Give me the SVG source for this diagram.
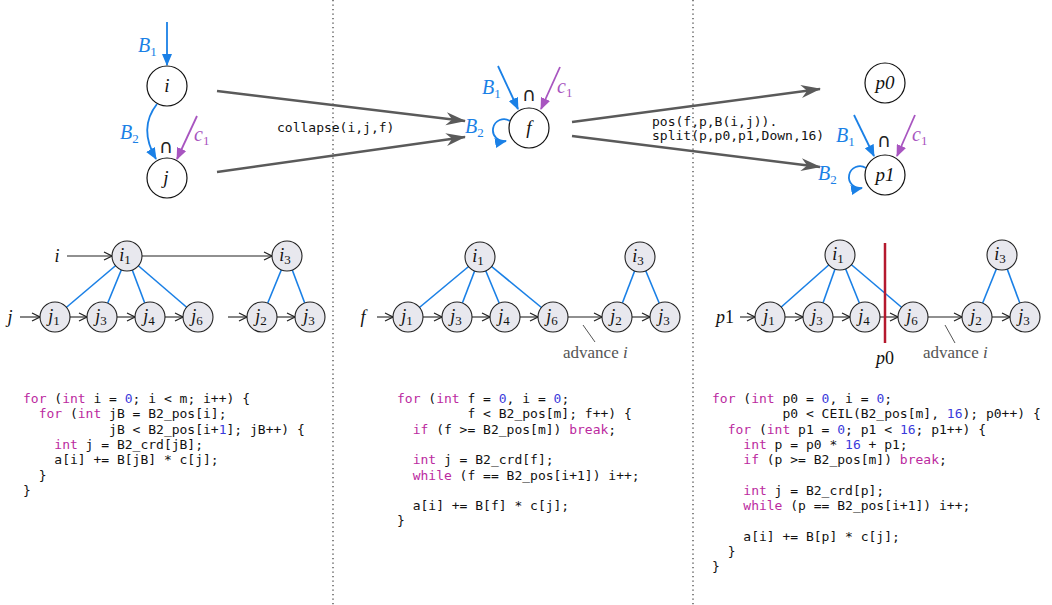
<svg xmlns="http://www.w3.org/2000/svg" width="1052" height="605" viewBox="0 0 1052 605">
<style>
.bg{fill:#ffffff}
.div{stroke:#444;stroke-width:1.3;stroke-dasharray:1.3 3.2;fill:none}
.tn{fill:#fff;stroke:#111;stroke-width:1.2}
.bn{fill:#e8e8ee;stroke:#222;stroke-width:1.1}
.it{font-family:"Liberation Serif",serif;font-style:italic;font-size:19px;fill:#111}
.itl{font-family:"Liberation Serif",serif;font-style:italic;font-size:20px}
.its{font-family:"Liberation Serif",serif;font-style:italic;font-size:18px;fill:#111}
.sub{font-style:normal;font-size:13px}
.blue{fill:#1a80e6}
.purp{fill:#a855c0}
.cap{font-family:"DejaVu Sans",sans-serif;font-size:19px;fill:#222}
.mono{font-family:"DejaVu Sans Mono","Liberation Mono",monospace;font-size:13px;fill:#111;white-space:pre}
.kw{fill:#bb2aa0}
.num{fill:#3b3bdb}
.eb{stroke:#1a80e6;stroke-width:1.8;fill:none}
.ep{stroke:#a855c0;stroke-width:1.8;fill:none}
.eg{stroke:#5a5a5a;stroke-width:2.4;fill:none}
.ek{stroke:#222;stroke-width:1.1;fill:none}
.ebl{stroke:#1a80e6;stroke-width:1.6;fill:none}
.ann{stroke:#555;stroke-width:1;fill:none}
.adv{font-family:"Liberation Serif",serif;font-size:17px;fill:#555}
</style>
<defs>
<marker id="ab" markerUnits="userSpaceOnUse" markerWidth="12" markerHeight="10" refX="11" refY="5" orient="auto" viewBox="0 0 12 10"><path d="M0,0 L12,5 L0,10 z" fill="#1a80e6"/></marker>
<marker id="ap" markerUnits="userSpaceOnUse" markerWidth="12" markerHeight="10" refX="11" refY="5" orient="auto" viewBox="0 0 12 10"><path d="M0,0 L12,5 L0,10 z" fill="#a855c0"/></marker>
<marker id="ag" markerUnits="userSpaceOnUse" markerWidth="20" markerHeight="14" refX="19" refY="7" orient="auto" viewBox="0 0 20 14"><path d="M0,0.5 L20,7 L0,13.5 L6,7 z" fill="#5a5a5a"/></marker>
<marker id="ak" markerUnits="userSpaceOnUse" markerWidth="10" markerHeight="10" refX="9" refY="5" orient="auto" viewBox="0 0 10 10"><path d="M1,1 L9,5 L1,9" fill="none" stroke="#222" stroke-width="1.2"/></marker>
</defs>
<rect class="bg" x="0" y="0" width="1052" height="605"/>
<line class="div" x1="333" y1="0" x2="333" y2="605"/>
<line class="div" x1="693" y1="0" x2="693" y2="605"/>

<g id="connectors">
<line class="eb" x1="167" y1="22" x2="167" y2="65" marker-end="url(#ab)"/>
<path class="eb" d="M157,104 Q138,128 156,159" marker-end="url(#ab)"/>
<line class="ep" x1="197" y1="116" x2="177" y2="159" marker-end="url(#ap)"/>
<line class="eg" x1="217" y1="91" x2="465" y2="121" marker-end="url(#ag)"/>
<line class="eg" x1="217" y1="172" x2="465" y2="137" marker-end="url(#ag)"/>
<line class="eb" x1="498" y1="66" x2="518" y2="109" marker-end="url(#ab)"/>
<line class="ep" x1="560" y1="67" x2="541" y2="109" marker-end="url(#ap)"/>
<path class="eb" d="M510,121 A11,11 0 1 0 506,141" marker-end="url(#ab)"/>
<line class="eg" x1="572" y1="122" x2="820" y2="89" marker-end="url(#ag)"/>
<line class="eg" x1="572" y1="136" x2="820" y2="167" marker-end="url(#ag)"/>
<line class="eb" x1="854" y1="115" x2="874" y2="156" marker-end="url(#ab)"/>
<line class="ep" x1="915" y1="115" x2="897" y2="156" marker-end="url(#ap)"/>
<path class="eb" d="M866,168 A11,11 0 1 0 862,188" marker-end="url(#ab)"/>

<line class="ebl" x1="127" y1="256" x2="55" y2="317"/>
<line class="ebl" x1="127" y1="256" x2="102" y2="317"/>
<line class="ebl" x1="127" y1="256" x2="150" y2="317"/>
<line class="ebl" x1="127" y1="256" x2="198" y2="317"/>
<line class="ebl" x1="287" y1="256" x2="262" y2="317"/>
<line class="ebl" x1="287" y1="256" x2="310" y2="317"/>
<line class="ek" x1="67" y1="256" x2="112" y2="256" marker-end="url(#ak)"/>
<line class="ek" x1="142" y1="256" x2="272" y2="256" marker-end="url(#ak)"/>
<line class="ek" x1="20" y1="317" x2="40" y2="317" marker-end="url(#ak)"/>
<line class="ek" x1="70" y1="317" x2="87" y2="317" marker-end="url(#ak)"/>
<line class="ek" x1="117" y1="317" x2="135" y2="317" marker-end="url(#ak)"/>
<line class="ek" x1="165" y1="317" x2="183" y2="317" marker-end="url(#ak)"/>
<line class="ek" x1="228" y1="317" x2="247" y2="317" marker-end="url(#ak)"/>
<line class="ek" x1="277" y1="317" x2="295" y2="317" marker-end="url(#ak)"/>

<line class="ebl" x1="480" y1="257" x2="408" y2="317"/>
<line class="ebl" x1="480" y1="257" x2="457" y2="317"/>
<line class="ebl" x1="480" y1="257" x2="505" y2="317"/>
<line class="ebl" x1="480" y1="257" x2="553" y2="317"/>
<line class="ebl" x1="640" y1="257" x2="617" y2="317"/>
<line class="ebl" x1="640" y1="257" x2="665" y2="317"/>
<line class="ek" x1="377" y1="317" x2="393" y2="317" marker-end="url(#ak)"/>
<line class="ek" x1="423" y1="317" x2="442" y2="317" marker-end="url(#ak)"/>
<line class="ek" x1="472" y1="317" x2="490" y2="317" marker-end="url(#ak)"/>
<line class="ek" x1="520" y1="317" x2="538" y2="317" marker-end="url(#ak)"/>
<line class="ek" x1="568" y1="317" x2="602" y2="317" marker-end="url(#ak)"/>
<line class="ek" x1="632" y1="317" x2="650" y2="317" marker-end="url(#ak)"/>
<line class="ann" x1="583" y1="325" x2="595" y2="342"/>

<line class="ebl" x1="840" y1="255" x2="770" y2="317"/>
<line class="ebl" x1="840" y1="255" x2="818" y2="317"/>
<line class="ebl" x1="840" y1="255" x2="865" y2="317"/>
<line class="ebl" x1="840" y1="255" x2="913" y2="317"/>
<line class="ebl" x1="1002" y1="255" x2="977" y2="317"/>
<line class="ebl" x1="1002" y1="255" x2="1025" y2="317"/>
<line class="ek" x1="740" y1="317" x2="755" y2="317" marker-end="url(#ak)"/>
<line class="ek" x1="785" y1="317" x2="803" y2="317" marker-end="url(#ak)"/>
<line class="ek" x1="833" y1="317" x2="850" y2="317" marker-end="url(#ak)"/>
<line class="ek" x1="880" y1="317" x2="898" y2="317" marker-end="url(#ak)"/>
<line class="ek" x1="928" y1="317" x2="962" y2="317" marker-end="url(#ak)"/>
<line class="ek" x1="992" y1="317" x2="1010" y2="317" marker-end="url(#ak)"/>
<line class="ann" x1="945" y1="325" x2="955" y2="343"/>
</g>

<g id="top-labels">
<text class="itl blue" x="138" y="52">B<tspan class="sub" dy="4">1</tspan></text>
<text class="itl blue" x="120" y="139">B<tspan class="sub" dy="4">2</tspan></text>
<text class="cap" x="166" y="153" text-anchor="middle">∩</text>
<text class="itl purp" x="194" y="141">c<tspan class="sub" dy="4">1</tspan></text>
<text class="mono" x="277" y="132">collapse(i,j,f)</text>

<text class="itl blue" x="482" y="94">B<tspan class="sub" dy="4">1</tspan></text>
<text class="cap" x="529" y="101" text-anchor="middle">∩</text>
<text class="itl purp" x="557" y="93">c<tspan class="sub" dy="4">1</tspan></text>
<text class="itl blue" x="465" y="133">B<tspan class="sub" dy="4">2</tspan></text>
<text class="mono" x="652" y="126">pos(f,p,B(i,j)).</text>
<text class="mono" x="652" y="140">split(p,p0,p1,Down,16)</text>

<text class="itl blue" x="836" y="142">B<tspan class="sub" dy="4">1</tspan></text>
<text class="cap" x="884" y="147" text-anchor="middle">∩</text>
<text class="itl purp" x="912" y="141">c<tspan class="sub" dy="4">1</tspan></text>
<text class="itl blue" x="818" y="180">B<tspan class="sub" dy="4">2</tspan></text>
</g>

<g id="node-i"><circle class="tn" cx="167" cy="86" r="20"/><text class="it" x="167" y="92" text-anchor="middle">i</text></g>
<g id="node-j"><circle class="tn" cx="167" cy="178" r="20"/><text class="it" x="166" y="184" text-anchor="middle">j</text></g>
<g id="node-f"><circle class="tn" cx="529" cy="128" r="20"/><text class="it" x="529" y="134" text-anchor="middle">f</text></g>
<g id="node-p0"><circle class="tn" cx="885" cy="83" r="20"/><text class="it" x="885" y="89" text-anchor="middle">p0</text></g>
<g id="node-p1"><circle class="tn" cx="885" cy="175" r="20"/><text class="it" x="885" y="181" text-anchor="middle">p1</text></g>

<g id="bl-labels">
<text class="its" x="57" y="262" text-anchor="middle">i</text>
<text class="its" x="10" y="323" text-anchor="middle">j</text>
</g>
<g id="bl-i1"><circle class="bn" cx="127" cy="256" r="15"/><text class="its" x="125" y="261" text-anchor="middle">i<tspan class="sub" dy="3">1</tspan></text></g>
<g id="bl-i3"><circle class="bn" cx="287" cy="256" r="15"/><text class="its" x="285" y="261" text-anchor="middle">i<tspan class="sub" dy="3">3</tspan></text></g>
<g id="bl-j1"><circle class="bn" cx="55" cy="317" r="15"/><text class="its" x="54" y="322" text-anchor="middle">j<tspan class="sub" dy="3">1</tspan></text></g>
<g id="bl-j3"><circle class="bn" cx="102" cy="317" r="15"/><text class="its" x="101" y="322" text-anchor="middle">j<tspan class="sub" dy="3">3</tspan></text></g>
<g id="bl-j4"><circle class="bn" cx="150" cy="317" r="15"/><text class="its" x="149" y="322" text-anchor="middle">j<tspan class="sub" dy="3">4</tspan></text></g>
<g id="bl-j6"><circle class="bn" cx="198" cy="317" r="15"/><text class="its" x="197" y="322" text-anchor="middle">j<tspan class="sub" dy="3">6</tspan></text></g>
<g id="bl-j2"><circle class="bn" cx="262" cy="317" r="15"/><text class="its" x="261" y="322" text-anchor="middle">j<tspan class="sub" dy="3">2</tspan></text></g>
<g id="bl-j3b"><circle class="bn" cx="310" cy="317" r="15"/><text class="its" x="309" y="322" text-anchor="middle">j<tspan class="sub" dy="3">3</tspan></text></g>

<g id="bm-labels">
<text class="its" x="363" y="323" text-anchor="middle">f</text>
<text class="adv" x="563" y="358">advance <tspan font-style="italic">i</tspan></text>
</g>
<g id="bm-i1"><circle class="bn" cx="480" cy="257" r="15"/><text class="its" x="478" y="262" text-anchor="middle">i<tspan class="sub" dy="3">1</tspan></text></g>
<g id="bm-i3"><circle class="bn" cx="640" cy="257" r="15"/><text class="its" x="638" y="262" text-anchor="middle">i<tspan class="sub" dy="3">3</tspan></text></g>
<g id="bm-j1"><circle class="bn" cx="408" cy="317" r="15"/><text class="its" x="407" y="322" text-anchor="middle">j<tspan class="sub" dy="3">1</tspan></text></g>
<g id="bm-j3"><circle class="bn" cx="457" cy="317" r="15"/><text class="its" x="456" y="322" text-anchor="middle">j<tspan class="sub" dy="3">3</tspan></text></g>
<g id="bm-j4"><circle class="bn" cx="505" cy="317" r="15"/><text class="its" x="504" y="322" text-anchor="middle">j<tspan class="sub" dy="3">4</tspan></text></g>
<g id="bm-j6"><circle class="bn" cx="553" cy="317" r="15"/><text class="its" x="552" y="322" text-anchor="middle">j<tspan class="sub" dy="3">6</tspan></text></g>
<g id="bm-j2"><circle class="bn" cx="617" cy="317" r="15"/><text class="its" x="616" y="322" text-anchor="middle">j<tspan class="sub" dy="3">2</tspan></text></g>
<g id="bm-j3b"><circle class="bn" cx="665" cy="317" r="15"/><text class="its" x="664" y="322" text-anchor="middle">j<tspan class="sub" dy="3">3</tspan></text></g>

<g id="br-labels">
<text class="its" x="725" y="323" text-anchor="middle">p<tspan font-style="normal">1</tspan></text>
<text class="its" x="885" y="364" text-anchor="middle">p<tspan font-style="normal">0</tspan></text>
<text class="adv" x="923" y="358">advance <tspan font-style="italic">i</tspan></text>
</g>
<g id="br-i1"><circle class="bn" cx="840" cy="255" r="15"/><text class="its" x="838" y="260" text-anchor="middle">i<tspan class="sub" dy="3">1</tspan></text></g>
<g id="br-i3"><circle class="bn" cx="1002" cy="255" r="15"/><text class="its" x="1000" y="260" text-anchor="middle">i<tspan class="sub" dy="3">3</tspan></text></g>
<g id="br-j1"><circle class="bn" cx="770" cy="317" r="15"/><text class="its" x="769" y="322" text-anchor="middle">j<tspan class="sub" dy="3">1</tspan></text></g>
<g id="br-j3"><circle class="bn" cx="818" cy="317" r="15"/><text class="its" x="817" y="322" text-anchor="middle">j<tspan class="sub" dy="3">3</tspan></text></g>
<g id="br-j4"><circle class="bn" cx="865" cy="317" r="15"/><text class="its" x="864" y="322" text-anchor="middle">j<tspan class="sub" dy="3">4</tspan></text></g>
<g id="br-j6"><circle class="bn" cx="913" cy="317" r="15"/><text class="its" x="912" y="322" text-anchor="middle">j<tspan class="sub" dy="3">6</tspan></text></g>
<g id="br-j2"><circle class="bn" cx="977" cy="317" r="15"/><text class="its" x="976" y="322" text-anchor="middle">j<tspan class="sub" dy="3">2</tspan></text></g>
<g id="br-j3b"><circle class="bn" cx="1025" cy="317" r="15"/><text class="its" x="1024" y="322" text-anchor="middle">j<tspan class="sub" dy="3">3</tspan></text></g>
<line x1="885" y1="243" x2="885" y2="343" stroke="#b5192e" stroke-width="2.5"/>

<g id="code-left" class="mono">
<text xml:space="preserve" x="23" y="403"><tspan class="kw">for</tspan> (<tspan class="kw">int</tspan> i = <tspan class="num">0</tspan>; i &lt; m; i++) {</text>
<text xml:space="preserve" x="23" y="418.3">  <tspan class="kw">for</tspan> (<tspan class="kw">int</tspan> jB = B2_pos[i];</text>
<text xml:space="preserve" x="23" y="433.6">           jB &lt; B2_pos[i+<tspan class="num">1</tspan>]; jB++) {</text>
<text xml:space="preserve" x="23" y="448.9">    <tspan class="kw">int</tspan> j = B2_crd[jB];</text>
<text xml:space="preserve" x="23" y="464.2">    a[i] += B[jB] * c[j];</text>
<text xml:space="preserve" x="23" y="479.5">  }</text>
<text xml:space="preserve" x="23" y="494.8">}</text>
</g>

<g id="code-middle" class="mono">
<text xml:space="preserve" x="397" y="403"><tspan class="kw">for</tspan> (<tspan class="kw">int</tspan> f = <tspan class="num">0</tspan>, i = <tspan class="num">0</tspan>;</text>
<text xml:space="preserve" x="397" y="418.3">         f &lt; B2_pos[m]; f++) {</text>
<text xml:space="preserve" x="397" y="433.6">  <tspan class="kw">if</tspan> (f &gt;= B2_pos[m]) <tspan class="kw">break</tspan>;</text>
<text xml:space="preserve" x="397" y="464.2">  <tspan class="kw">int</tspan> j = B2_crd[f];</text>
<text xml:space="preserve" x="397" y="479.5">  <tspan class="kw">while</tspan> (f == B2_pos[i+1]) i++;</text>
<text xml:space="preserve" x="397" y="510.1">  a[i] += B[f] * c[j];</text>
<text xml:space="preserve" x="397" y="525.4">}</text>
</g>

<g id="code-right" class="mono">
<text xml:space="preserve" x="712" y="403"><tspan class="kw">for</tspan> (<tspan class="kw">int</tspan> p0 = <tspan class="num">0</tspan>, i = <tspan class="num">0</tspan>;</text>
<text xml:space="preserve" x="712" y="418.3">         p0 &lt; CEIL(B2_pos[m], <tspan class="num">16</tspan>); p0++) {</text>
<text xml:space="preserve" x="712" y="433.6">  <tspan class="kw">for</tspan> (<tspan class="kw">int</tspan> p1 = <tspan class="num">0</tspan>; p1 &lt; <tspan class="num">16</tspan>; p1++) {</text>
<text xml:space="preserve" x="712" y="448.9">    <tspan class="kw">int</tspan> p = p0 * <tspan class="num">16</tspan> + p1;</text>
<text xml:space="preserve" x="712" y="464.2">    <tspan class="kw">if</tspan> (p &gt;= B2_pos[m]) <tspan class="kw">break</tspan>;</text>
<text xml:space="preserve" x="712" y="494.8">    <tspan class="kw">int</tspan> j = B2_crd[p];</text>
<text xml:space="preserve" x="712" y="510.1">    <tspan class="kw">while</tspan> (p == B2_pos[i+1]) i++;</text>
<text xml:space="preserve" x="712" y="540.7">    a[i] += B[p] * c[j];</text>
<text xml:space="preserve" x="712" y="556">  }</text>
<text xml:space="preserve" x="712" y="571.3">}</text>
</g>
</svg>
